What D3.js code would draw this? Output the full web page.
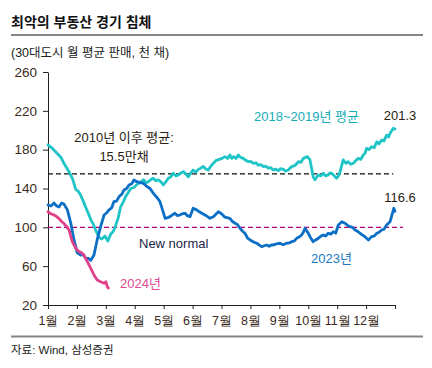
<!doctype html>
<html>
<head>
<meta charset="utf-8"/>
<script src="https://cdnjs.cloudflare.com/ajax/libs/d3/7.8.5/d3.min.js"></script>
<style>
  body { margin: 0; background: #fff; }
  svg { display: block; font-family: "Liberation Sans", "Noto Sans CJK KR", sans-serif; }
  .axis path, .axis line { stroke: #222; stroke-width: 1px; }
  .axis text { fill: #3a2a20; }
</style>
</head>
<body>
<svg width="432" height="368"></svg>
<script>
// month position (0 = 1월 start, 12 = year end), value in thousand units
var avg1819 = [
  [0.00,185],[0.16,181],[0.32,176],[0.45,172],[0.55,166],[0.73,157],[0.85,150],[0.96,139],[1.05,137],
  [1.13,133],[1.22,127],[1.30,121],[1.40,114],[1.48,108],[1.57,103],[1.65,97],[1.76,90],[1.86,88],
  [1.97,91],[2.07,86],[2.17,93],[2.26,96],[2.34,102],[2.43,110],[2.51,121],[2.60,126],[2.69,132],
  [2.78,136],[2.86,140],[2.97,141],[3.07,144],[3.18,146],[3.30,149],[3.40,146],[3.47,147],[3.55,149],
  [3.64,150.5],[3.73,148],[3.81,149],[3.90,147],[3.99,143.6],[4.08,147],[4.16,150.5],[4.25,152],
  [4.33,155.7],[4.42,153],[4.51,154],[4.60,156],[4.68,157.4],[4.77,155],[4.85,152],[4.94,156],
  [5.02,159],[5.11,157],[5.20,159.7],[5.28,161],[5.37,162.6],[5.46,160],[5.54,159],[5.63,163],
  [5.72,166],[5.82,169],[5.92,170],[6.02,171],[6.12,172.8],[6.21,171],[6.29,174.5],[6.35,171],
  [6.41,172.8],[6.50,171],[6.58,174.5],[6.66,172],[6.75,171],[6.84,169],[6.93,167.6],[7.01,168],
  [7.10,166],[7.19,166.5],[7.27,164],[7.36,164.5],[7.45,162.5],[7.53,163],[7.62,161],[7.70,161.5],
  [7.79,159],[7.88,160],[7.96,158.4],[8.05,160.5],[8.14,159.8],[8.22,158],[8.31,159],[8.37,161],
  [8.43,162.5],[8.55,164],[8.66,167.6],[8.75,167],[8.83,171],[8.97,172.8],[9.06,169.4],[9.12,160],
  [9.17,152],[9.23,149],[9.35,154],[9.44,153],[9.52,155.7],[9.60,153],[9.69,154],[9.75,156],
  [9.81,155.7],[9.90,153],[9.98,150.5],[10.04,153],[10.10,157.3],[10.21,169.4],[10.30,166],
  [10.38,167.6],[10.47,165],[10.56,166],[10.65,169],[10.73,171],[10.82,170],[10.90,174.5],
  [10.96,176],[11.02,181.4],[11.10,180],[11.19,183],[11.28,182],[11.37,188],[11.45,186],
  [11.54,190],[11.62,189],[11.71,195],[11.78,193],[11.83,197],[11.94,202],[12.00,201.3]
];
var y2023 = [
  [0.00,123],[0.10,122],[0.21,125],[0.30,122],[0.38,121],[0.47,125],[0.55,124],[0.67,118],
  [0.79,104],[0.90,87],[1.01,74],[1.13,71.5],[1.22,72],[1.30,68],[1.40,68],[1.48,66],[1.59,71.5],
  [1.70,87],[1.82,100.7],[1.94,112.7],[2.03,115],[2.11,118],[2.20,120],[2.28,126.5],[2.37,127],
  [2.46,131.6],[2.55,134],[2.63,138.5],[2.72,140],[2.80,143.6],[2.90,145],[2.97,148.8],
  [3.07,147],[3.18,146],[3.30,145.4],[3.42,142],[3.53,140],[3.62,136],[3.70,133],[3.79,130],
  [3.87,126.5],[3.95,119],[4.05,109.3],[4.14,110],[4.22,111],[4.31,113],[4.39,114.5],[4.48,112],
  [4.56,112.7],[4.65,114],[4.74,114.5],[4.82,112],[4.91,111],[5.02,119.6],[5.14,118],[5.23,116],
  [5.32,114.5],[5.43,112.7],[5.52,111],[5.60,109.3],[5.72,111],[5.89,116],[6.00,114],
  [6.12,110.4],[6.29,109.3],[6.38,106],[6.47,104.2],[6.55,103],[6.64,99],[6.73,96],[6.81,93.9],
  [6.90,89],[6.99,87],[7.10,85],[7.22,83.6],[7.30,82],[7.39,80],[7.48,81],[7.56,81.8],[7.65,80.5],
  [7.72,82],[7.79,81.8],[7.90,83],[8.02,83.6],[8.13,82],[8.25,83.6],[8.34,84],[8.43,85.2],
  [8.52,86],[8.60,88.7],[8.68,90],[8.77,92.1],[8.83,95],[8.89,99],[9.00,93.9],[9.06,90.4],
  [9.17,85.2],[9.26,87],[9.35,88.7],[9.44,91],[9.52,92.1],[9.60,91],[9.69,93.9],[9.78,93],
  [9.87,95.5],[9.95,94],[10.04,102.4],[10.16,105.8],[10.27,104.2],[10.36,102],[10.44,100.7],
  [10.53,100],[10.62,97.3],[10.70,96],[10.79,93.9],[10.88,92],[10.96,90.4],[11.08,87],
  [11.19,90.4],[11.28,91],[11.37,93.9],[11.45,95],[11.54,97.3],[11.62,98],[11.71,102.4],
  [11.83,105.8],[11.91,114.5],[11.96,119.6],[12.00,116.6]
];
var y2024 = [
  [0.00,116],[0.10,114],[0.21,112.7],[0.30,111],[0.38,109],[0.47,106],[0.55,104],[0.64,101],
  [0.73,97],[0.84,85.3],[0.96,78.4],[1.07,75],[1.15,74],[1.24,71.5],[1.36,64.6],[1.48,57.8],
  [1.59,50.9],[1.70,45.8],[1.82,44],[1.94,42.4],[2.00,44],[2.05,39],[2.09,37.5]
];
var months = ["1월","2월","3월","4월","5월","6월","7월","8월","9월","10월","11월","12월"];
var yTicks = [20,60,100,140,180,220,260];
var avgSince2010 = 155;   // 15.5만채
var newNormal = 100;

var svg = d3.select("svg");
var x = d3.scaleLinear().domain([0, 12]).range([48, 395]);
var y = d3.scaleLinear().domain([20, 260]).range([305, 72]);

// title block
svg.append("text").attr("x", 11).attr("y", 26.5)
  .style("font-size", "14px").style("font-weight", "bold").attr("fill", "#111")
  .text("최악의 부동산 경기 침체");
svg.append("line").attr("x1", 11).attr("x2", 423).attr("y1", 35).attr("y2", 35)
  .attr("stroke", "#858585").attr("stroke-width", 2.2);
svg.append("text").attr("x", 11).attr("y", 56.5)
  .style("font-size", "12.5px").attr("fill", "#222")
  .text("(30대도시 월 평균 판매, 천 채)");

// axes
svg.append("g").attr("class", "axis").attr("transform", "translate(48,0)")
  .call(d3.axisLeft(y).tickValues(yTicks).tickSize(5).tickPadding(6).tickSizeOuter(0))
  .selectAll("text").style("font-size", "13.5px");
svg.append("g").attr("class", "axis").attr("transform", "translate(0,305)")
  .call(d3.axisBottom(x).tickValues(d3.range(0, 13)).tickSize(4).tickPadding(7).tickSizeOuter(0)
    .tickFormat(function(d){ return d < 12 ? months[d] : ""; }))
  .selectAll("text").style("font-size", "12.5px");

// reference lines
svg.append("line").attr("x1", x(0)).attr("x2", x(11.94)).attr("y1", y(avgSince2010)).attr("y2", y(avgSince2010))
  .attr("stroke", "#111").attr("stroke-width", 1.2).attr("stroke-dasharray", "5,3");
svg.append("line").attr("x1", x(0)).attr("x2", x(12.28)).attr("y1", y(newNormal)).attr("y2", y(newNormal))
  .attr("stroke", "#b5007a").attr("stroke-width", 1.2).attr("stroke-dasharray", "5,3");

var line = d3.line().x(function(d){ return x(d[0]); }).y(function(d){ return y(d[1]); });
[[avg1819, "#1ec4c6"], [y2023, "#0b6fc6"], [y2024, "#e0418a"]].forEach(function(s){
  svg.append("path").datum(s[0]).attr("d", line)
    .attr("fill", "none").attr("stroke", s[1]).attr("stroke-width", 2.8)
    .attr("stroke-linejoin", "round").attr("stroke-linecap", "round");
});

// annotations
function label(tx, ty, str, col, anchor) {
  svg.append("text").attr("x", tx).attr("y", ty).attr("text-anchor", anchor || "start")
    .style("font-size", "13px").attr("fill", col).text(str);
}
label(124, 141.5, "2010년 이후 평균:", "#2a1d12", "middle");
label(124, 161, "15.5만채", "#2a1d12", "middle");
label(254, 121, "2018~2019년 평균", "#17adb8");
label(x(12) + 5, y(avg1819[avg1819.length - 1][1]) - 9, "201.3", "#2a1d12", "middle");
label(x(12) + 5, 201.5, "116.6", "#2a1d12", "middle");
label(139, 248, "New normal", "#1c1f4a");
label(311, 263, "2023년", "#1a78c8");
label(120, 288, "2024년", "#de4a8e");

// source
svg.append("line").attr("x1", 11).attr("x2", 423).attr("y1", 336.5).attr("y2", 336.5)
  .attr("stroke", "#858585").attr("stroke-width", 2.2);
svg.append("text").attr("x", 11).attr("y", 353.5)
  .style("font-size", "11.5px").attr("fill", "#222")
  .text("자료: Wind, 삼성증권");
</script>
</body>
</html>
